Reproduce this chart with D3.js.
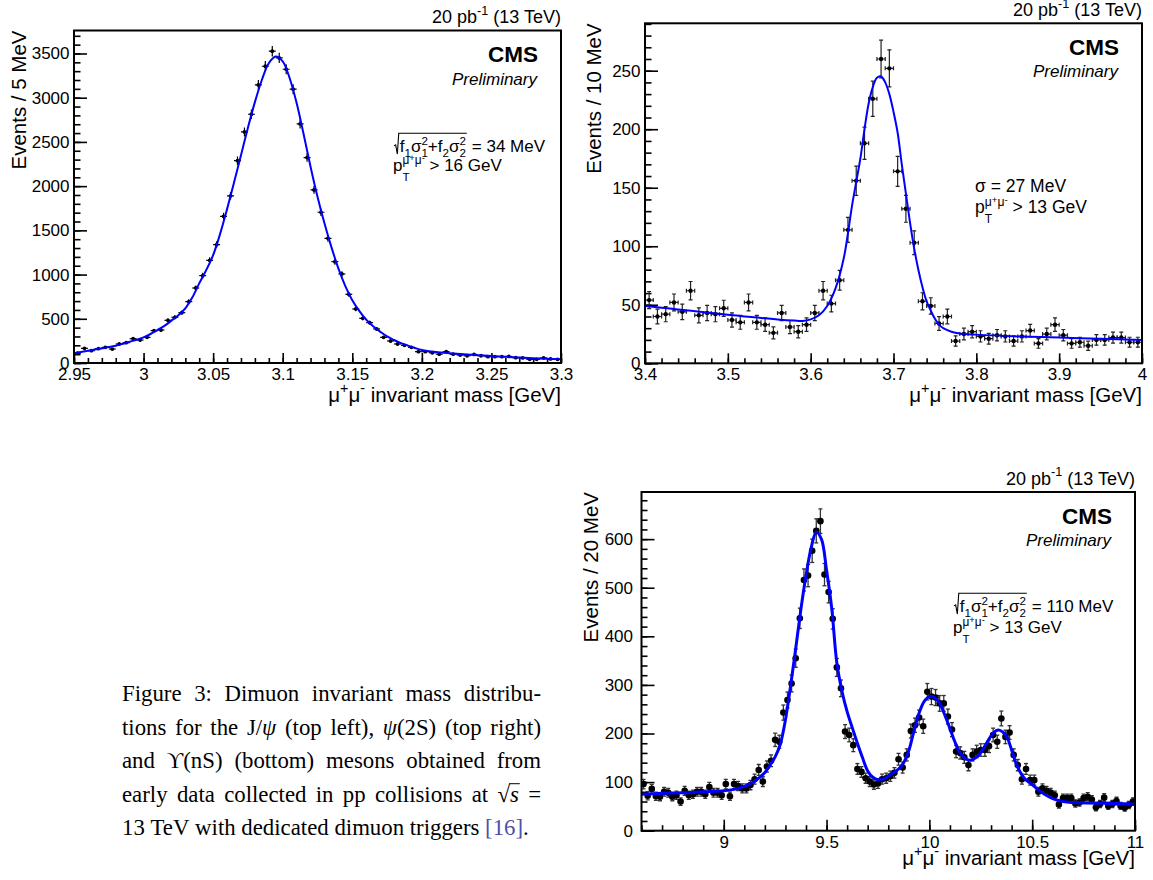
<!DOCTYPE html>
<html><head><meta charset="utf-8">
<script src="https://cdn.jsdelivr.net/npm/d3@7"></script>
<style>body{margin:0;background:#fff}</style>
</head><body>
<svg id="c" width="1153" height="880" style="background:#fff"></svg>
<script>
// ---------------- DATA ----------------
// J/psi : 5 MeV bins from 2.95 GeV
const jpsiBinStart = 2.95, jpsiBinWidth = 0.005;
const jpsiCounts = [110,166,139,162,177,158,215,230,275,260,290,366,373,483,517,569,694,848,988,1161,
  1339,1659,1889,2288,2613,2813,3145,3356,3526,3450,3322,3096,2704,2323,1957,1705,1410,1146,1007,777,
  611,505,456,385,290,249,215,200,177,128,128,116,100,128,100,90,82,97,82,71,
  71,71,74,60,57,42,42,57,46,42];
const jpsiFitMass = [2.95,2.955,2.96,2.965,2.97,2.975,2.98,2.985,2.99,2.995,3.0,3.005,3.01,3.015,3.02,3.025,3.03,3.035,3.04,3.045,
  3.05,3.055,3.06,3.065,3.07,3.075,3.08,3.085,3.09,3.095,3.1,3.105,3.11,3.115,3.12,3.125,3.13,3.135,3.14,3.145,
  3.15,3.155,3.16,3.165,3.17,3.175,3.18,3.185,3.19,3.195,3.2,3.21,3.22,3.23,3.24,3.25,3.26,3.27,3.28,3.29,3.3];
const jpsiFitValue = [110,125,139,152,166,180,196,217,241,263,290,328,373,420,479,540,618,740,900,1050,
  1220,1460,1740,2040,2350,2660,2950,3200,3390,3465,3410,3220,2940,2590,2220,1880,1580,1310,1070,870,
  710,590,490,415,355,300,260,225,196,170,148,125,110,98,88,79,70,62,55,48,43];
const jpsiXTicks = [2.95,3,3.05,3.1,3.15,3.2,3.25,3.3];
const jpsiYTicks = [0,500,1000,1500,2000,2500,3000,3500];

// psi(2S) : 10 MeV bins from 3.4 GeV
const psiBinStart = 3.4, psiBinWidth = 0.01;
const psiCounts = [54,40,42,52,44,62,41,43,42,47,37,35,52,35,33,26,43,31,27,33,
  43,62,51,71,114,156,188,226,260,252,164,132,103,53,49,34,40,19,25,27,
  23,21,24,23,19,23,28,17,25,33,24,17,18,15,20,20,22,22,18,18];
const psiFitMass = [3.4,3.42,3.44,3.46,3.48,3.5,3.52,3.54,3.56,3.58,3.59,3.6,3.61,3.62,3.63,3.64,3.645,3.65,3.655,3.66,
  3.665,3.67,3.675,3.68,3.685,3.69,3.695,3.7,3.705,3.71,3.715,3.72,3.725,3.73,3.735,3.74,3.745,3.75,3.755,3.76,
  3.77,3.78,3.8,3.85,3.9,3.95,4.0];
const psiFitValue = [49,47.5,46,44.5,43,41.5,40,38.8,37.5,36.5,36.2,37.5,41,49,64,90,111,135,155,175,
  200,222,236,244,245,240,230,215,197,170,145,120,98,80,65,53,45,38,33,30,
  27,25.5,24.5,23,22,21,20];
const psiXTicks = [3.4,3.5,3.6,3.7,3.8,3.9,4];
const psiYTicks = [0,50,100,150,200,250];

// Upsilon(nS) : 20 MeV bins from 8.6 GeV
const upsBinStart = 8.6, upsBinWidth = 0.02;
const upsCounts = [96,72,86,71,70,80,78,70,73,60,82,73,75,80,80,75,90,78,78,73,
  96,71,96,92,87,87,94,106,125,101,132,144,187,183,243,269,303,355,437,516,
  525,576,617,637,527,491,436,336,293,204,197,176,127,121,108,101,95,97,106,108,
  112,119,147,130,156,205,217,233,215,286,276,274,262,262,235,208,163,160,151,135,
  156,163,166,166,174,197,183,231,193,202,156,135,106,127,104,104,80,87,82,78,
  73,54,67,67,67,56,58,67,70,64,48,55,68,51,55,61,51,47,53,60];
const upsFitMass = [8.6,8.7,8.8,8.9,9.0,9.05,9.1,9.15,9.2,9.225,9.25,9.275,9.3,9.325,9.35,9.375,9.4,9.425,9.45,9.475,
  9.5,9.525,9.55,9.575,9.6,9.625,9.65,9.675,9.7,9.725,9.75,9.775,9.8,9.825,9.85,9.875,9.9,9.925,9.95,9.975,
  10.0,10.025,10.05,10.075,10.1,10.125,10.15,10.175,10.2,10.225,10.25,10.275,10.3,10.325,10.34,10.36,10.38,10.4,10.42,10.44,
  10.46,10.48,10.5,10.53,10.56,10.6,10.65,10.7,10.8,10.9,11.0];
const upsFitValue = [75,77,78,80,82,85,91,102,120,135,152,178,228,298,375,455,525,582,614,600,
  536,458,345,287,245,212,180,150,123,110,105,106,112,119,127,140,165,205,242,266,
  276,274,262,238,210,182,160,148,145,150,161,178,195,206,207,202,190,166,140,122,
  109,101,95,84,75,66,60,58,57,56,55];
const upsXTicks = [9,9.5,10,10.5,11];
const upsYTicks = [0,100,200,300,400,500,600];

const captionLines = [
  "Figure 3: Dimuon invariant mass distribu-",
  "tions for the J/ψ (top left), ψ(2S) (top right)",
  "and ϒ(nS) (bottom) mesons obtained from",
  "early data collected in pp collisions at √s =",
  "13 TeV with dedicated dimuon triggers [16]."
];

// ---------------- DRAWING ----------------
const SANS = "'Liberation Sans', Arial, Helvetica, sans-serif";
const SERIF = "'Liberation Serif', 'Times New Roman', serif";
const svg = d3.select('#c');

function layoutRich(parent, segs, fs, fam) {
  const g = parent.append('g');
  let cx = 0;
  segs.forEach(s => {
    const parts = Array.isArray(s) ? s : [s];
    let w = 0;
    parts.forEach(p => {
      const el = g.append('text')
        .attr('x', cx).attr('y', -(p.rise || 0) * fs)
        .attr('font-family', p.family || fam)
        .attr('font-size', fs * (p.scale || 1))
        .attr('font-style', p.italic ? 'italic' : null)
        .attr('font-weight', p.bold ? 'bold' : null)
        .attr('fill', p.color || '#000');
      if (p.tspans) {
        p.tspans.forEach(ts => el.append('tspan').attr('font-size', fs * (ts.scale || 1)).attr('dy', ts.dy || 0).text(ts.t));
      } else el.text(p.t);
      const wi = el.node().getComputedTextLength();
      if (p.over) {
        g.append('line').attr('x1', cx - 1).attr('x2', cx + wi + 1)
          .attr('y1', -0.78 * fs).attr('y2', -0.78 * fs).attr('stroke', '#000').attr('stroke-width', 1);
      }
      w = Math.max(w, wi);
    });
    cx += w + (parts[0].after || 0);
  });
  return { g, width: cx };
}
function rich(parent, x, y, segs, fs, anchor, fam) {
  const r = layoutRich(parent, segs, fs, fam || SANS);
  const ox = anchor === 'end' ? x - r.width : anchor === 'middle' ? x - r.width / 2 : x;
  r.g.attr('transform', `translate(${ox},${y})`);
  return r;
}
function sqrtAnno(parent, x, y, fs, valueText) {
  const g = parent.append('g').attr('transform', `translate(${x},${y})`);
  const radW = 0.22 * fs;
  const s = 0.68;
  const inner = layoutRich(g, [
    {t: 'f'}, {t: '1', scale: s, rise: -0.28},
    {t: 'σ'}, [{t: '1', scale: s, rise: -0.3}, {t: '2', scale: s, rise: 0.4}],
    {t: '+'},
    {t: 'f'}, {t: '2', scale: s, rise: -0.28},
    {t: 'σ'}, [{t: '2', scale: s, rise: -0.3}, {t: '2', scale: s, rise: 0.4}]
  ], fs, SANS);
  inner.g.attr('transform', `translate(${radW},0)`);
  const top = -1.1 * fs;
  g.append('path')
    .attr('d', `M${-0.12 * fs},${-0.36 * fs} L${-0.02 * fs},${-0.42 * fs} L${0.08 * fs},${0.12 * fs} L${radW - 1},${top} L${radW + inner.width + 1},${top}`)
    .attr('fill', 'none').attr('stroke', '#000').attr('stroke-width', 1.1);
  const rest = layoutRich(g, [{t: '= ' + valueText}], fs, SANS);
  rest.g.attr('transform', `translate(${radW + inner.width + 6},0)`);
}
function ptAnno(parent, x, y, fs, cut) {
  rich(parent, x, y, [
    {t: 'p'},
    [{t: 'T', scale: 0.68, rise: -0.58},
     {tspans: [{t: 'μ', scale: 0.7}, {t: '+', scale: 0.55, dy: -3}, {t: 'μ', scale: 0.7, dy: 3}, {t: '-', scale: 0.55, dy: -3}], rise: 0.4}],
    {t: '\u00A0> ' + cut + ' GeV'}
  ], fs, 'start');
}

function panel(cfg) {
  const {L, T, R, B} = cfg.frame;
  const x = d3.scaleLinear().domain(cfg.xDomain).range([L, R]);
  const y = d3.scaleLinear().domain(cfg.yDomain).range([B, T]);
  const g = svg.append('g');
  const clipId = 'clip' + cfg.id;
  g.append('clipPath').attr('id', clipId).append('rect').attr('x', L).attr('y', T).attr('width', R - L).attr('height', B - T);

  const tickStyle = a => {
    a.select('.domain').remove();
    a.selectAll('line').attr('stroke', '#000').attr('stroke-width', 1.6);
    a.selectAll('text').attr('font-family', SANS).attr('font-size', cfg.tickFont).attr('fill', '#000');
  };
  // minor ticks
  g.append('g').attr('transform', `translate(0,${B})`)
    .call(d3.axisBottom(x).tickValues(cfg.xMinor).tickSize(-cfg.xMinorLen).tickFormat('')).call(tickStyle);
  g.append('g').attr('transform', `translate(${L},0)`)
    .call(d3.axisLeft(y).tickValues(cfg.yMinor).tickSize(-cfg.yMinorLen).tickFormat('')).call(tickStyle);
  // major ticks
  g.append('g').attr('transform', `translate(0,${B})`)
    .call(d3.axisBottom(x).tickValues(cfg.xTicks).tickSize(-cfg.xMajorLen).tickPadding(cfg.xPad).tickFormat(d => String(d))).call(tickStyle);
  g.append('g').attr('transform', `translate(${L},0)`)
    .call(d3.axisLeft(y).tickValues(cfg.yTicks).tickSize(-cfg.yMajorLen).tickPadding(cfg.yPad).tickFormat(d => String(d))).call(tickStyle);

  // data
  const pts = cfg.counts.map((v, i) => ({m: cfg.binStart + cfg.binWidth * (i + 0.5), v, e: Math.sqrt(v)}));
  const dg = g.append('g').attr('clip-path', `url(#${clipId})`);
  const st = cfg.pointStyle;
  dg.selectAll('line.ev').data(pts).join('line').attr('class', 'ev')
    .attr('x1', d => x(d.m)).attr('x2', d => x(d.m)).attr('y1', d => y(d.v - d.e)).attr('y2', d => y(d.v + d.e))
    .attr('stroke', st.color).attr('stroke-width', st.w);
  if (st.hbar) {
    dg.selectAll('line.eh').data(pts).join('line').attr('class', 'eh')
      .attr('x1', d => x(d.m - cfg.binWidth / 2)).attr('x2', d => x(d.m + cfg.binWidth / 2)).attr('y1', d => y(d.v)).attr('y2', d => y(d.v))
      .attr('stroke', st.color).attr('stroke-width', st.w);
  }
  if (st.cap) {
    ['top', 'bot'].forEach(k => {
      dg.selectAll('line.c' + k).data(pts).join('line').attr('class', 'c' + k)
        .attr('x1', d => x(d.m) - st.cap).attr('x2', d => x(d.m) + st.cap)
        .attr('y1', d => y(k === 'top' ? d.v + d.e : d.v - d.e)).attr('y2', d => y(k === 'top' ? d.v + d.e : d.v - d.e))
        .attr('stroke', st.color).attr('stroke-width', st.w);
    });
    if (st.hbar) {
      ['l', 'r'].forEach(k => {
        dg.selectAll('line.h' + k).data(pts).join('line').attr('class', 'h' + k)
          .attr('x1', d => x(k === 'l' ? d.m - cfg.binWidth / 2 : d.m + cfg.binWidth / 2))
          .attr('x2', d => x(k === 'l' ? d.m - cfg.binWidth / 2 : d.m + cfg.binWidth / 2))
          .attr('y1', d => y(d.v) - st.cap).attr('y2', d => y(d.v) + st.cap)
          .attr('stroke', st.color).attr('stroke-width', st.w);
      });
    }
  }
  dg.selectAll('circle').data(pts).join('circle')
    .attr('cx', d => x(d.m)).attr('cy', d => y(d.v)).attr('r', st.r).attr('fill', '#000');

  // fit curve
  const fit = cfg.fitMass.map((m, i) => [m, cfg.fitValue[i]]);
  dg.append('path').datum(fit)
    .attr('d', d3.line().x(d => x(d[0])).y(d => y(d[1])).curve(d3.curveCatmullRom.alpha(0.5)))
    .attr('fill', 'none').attr('stroke', '#0000ff').attr('stroke-width', cfg.fitWidth);

  // frame
  g.append('rect').attr('x', L).attr('y', T).attr('width', R - L).attr('height', B - T)
    .attr('fill', 'none').attr('stroke', '#000').attr('stroke-width', 2);

  // axis titles
  g.append('text').attr('transform', `translate(${cfg.yTitleX},${T}) rotate(-90)`)
    .attr('text-anchor', 'end').attr('font-family', SANS).attr('font-size', cfg.titleFont).attr('fill', '#000')
    .text(cfg.yTitle);
  rich(g, R, cfg.xTitleY, [
    {t: 'μ'}, {t: '+', scale: 0.7, rise: 0.45}, {t: 'μ'}, {t: '-', scale: 0.7, rise: 0.45},
    {t: '\u00A0invariant mass [GeV]'}
  ], cfg.titleFont, 'end');

  // lumi + CMS labels
  rich(g, R, T - 7.5, [{t: '20 pb'}, {t: '-1', scale: 0.7, rise: 0.45}, {t: '\u00A0(13 TeV)'}], 18, 'end');
  g.append('text').attr('x', R - 23).attr('y', T + 31.5).attr('text-anchor', 'end')
    .attr('font-family', SANS).attr('font-weight', 'bold').attr('font-size', 22.5).attr('fill', '#000').text('CMS');
  g.append('text').attr('x', R - 24).attr('y', T + 54).attr('text-anchor', 'end')
    .attr('font-family', SANS).attr('font-style', 'italic').attr('font-size', 17).attr('fill', '#000').text('Preliminary');
  cfg.annotate(g);
}

panel({
  id: 'jpsi', frame: {L: 74, T: 30.5, R: 561, B: 363},
  xDomain: [2.95, 3.3], yDomain: [0, 3760],
  xTicks: jpsiXTicks, yTicks: jpsiYTicks,
  xMinor: d3.range(0, 36).map(i => 2.95 + i * 0.01), yMinor: d3.range(0, 38).map(i => i * 100),
  xMajorLen: 10, xMinorLen: 5, yMajorLen: 13, yMinorLen: 6.5, xPad: 5, yPad: 4.5, tickFont: 17, titleFont: 20.5,
  counts: jpsiCounts, binStart: jpsiBinStart, binWidth: jpsiBinWidth,
  pointStyle: {r: 1.9, color: '#000', w: 1.2, hbar: true, cap: 0},
  fitMass: jpsiFitMass, fitValue: jpsiFitValue, fitWidth: 2,
  yTitle: 'Events / 5 MeV', yTitleX: 25.5, xTitleY: 402,
  annotate: g => { sqrtAnno(g, 396, 152, 17, '34 MeV'); ptAnno(g, 393, 171, 17, '16'); }
});
panel({
  id: 'psi', frame: {L: 645, T: 23.3, R: 1142, B: 363.3},
  xDomain: [3.4, 4.0], yDomain: [0, 290.5],
  xTicks: psiXTicks, yTicks: psiYTicks,
  xMinor: d3.range(0, 31).map(i => 3.4 + i * 0.02), yMinor: d3.range(0, 30).map(i => i * 10),
  xMajorLen: 10, xMinorLen: 5, yMajorLen: 13, yMinorLen: 6.5, xPad: 5, yPad: 4.5, tickFont: 17, titleFont: 20.5,
  counts: psiCounts, binStart: psiBinStart, binWidth: psiBinWidth,
  pointStyle: {r: 2.2, color: '#222', w: 1.2, hbar: true, cap: 2},
  fitMass: psiFitMass, fitValue: psiFitValue, fitWidth: 2,
  yTitle: 'Events / 10 MeV', yTitleX: 601, xTitleY: 402,
  annotate: g => {
    rich(g, 975, 191.5, [{t: 'σ = 27 MeV'}], 17.5, 'start');
    ptAnno(g, 975, 213, 17.5, '13');
  }
});
panel({
  id: 'ups', frame: {L: 641.5, T: 492, R: 1135, B: 830.7},
  xDomain: [8.6, 11], yDomain: [0, 697],
  xTicks: upsXTicks, yTicks: upsYTicks,
  xMinor: d3.range(0, 25).map(i => 8.6 + i * 0.1), yMinor: d3.range(0, 35).map(i => i * 20),
  xMajorLen: 11, xMinorLen: 5.5, yMajorLen: 13, yMinorLen: 6, xPad: 5, yPad: 8.5, tickFont: 17, titleFont: 20.5,
  counts: upsCounts, binStart: upsBinStart, binWidth: upsBinWidth,
  pointStyle: {r: 3.3, color: '#333', w: 1.3, hbar: false, cap: 2},
  fitMass: upsFitMass, fitValue: upsFitValue, fitWidth: 3,
  yTitle: 'Events / 20 MeV', yTitleX: 598, xTitleY: 865,
  annotate: g => { sqrtAnno(g, 956, 612, 17, '110 MeV'); ptAnno(g, 953, 633, 17, '13'); }
});

// ---------------- CAPTION ----------------
const capSize = 22.8, capLeft = 122, capRight = 541;
const capBaselines = [701, 734.5, 768, 801.5, 835];
const CITE = '#4f4fa8';
function wordSegs(w) {
  if (w === '√s') return [{t: '√'}, {t: 's', italic: true, over: true}];
  if (w === '[16].') return [{t: '[16]', color: CITE}, {t: '.'}];
  const segs = [];
  let buf = '';
  for (const ch of w) {
    if (ch === 'ψ') { if (buf) segs.push({t: buf}); buf = ''; segs.push({t: 'ψ', italic: true}); }
    else buf += ch;
  }
  if (buf) segs.push({t: buf});
  return segs;
}
const capG = svg.append('g');
captionLines.forEach((line, li) => {
  const words = line.split(' ');
  const laid = words.map(w => layoutRich(capG, wordSegs(w), capSize, SERIF));
  const total = d3.sum(laid, d => d.width);
  const justify = li < captionLines.length - 1;
  const gap = justify ? (capRight - capLeft - total) / (words.length - 1) : capSize * 0.25;
  let cx = capLeft;
  laid.forEach(l => { l.g.attr('transform', `translate(${cx},${capBaselines[li]})`); cx += l.width + gap; });
});
</script>
</body></html>
